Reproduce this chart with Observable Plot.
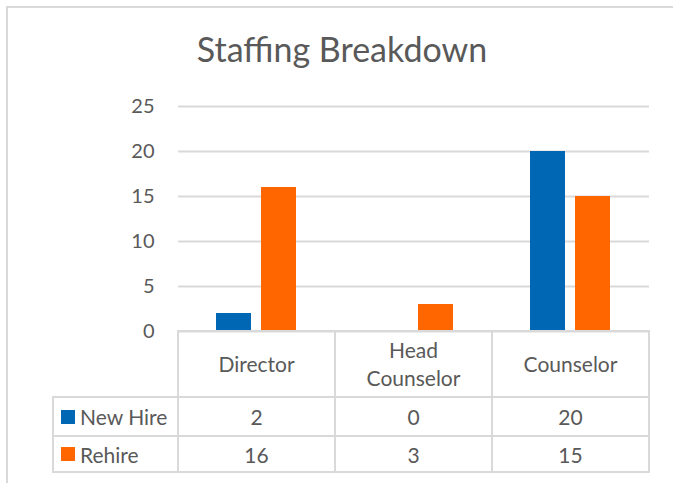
<!DOCTYPE html>
<html>
<head>
<meta charset="utf-8">
<script src="https://cdn.jsdelivr.net/npm/d3@7"></script>
<script src="https://cdn.jsdelivr.net/npm/@observablehq/plot@0.6"></script>
<style>
  html, body { margin: 0; padding: 0; background: #fff; }
  #wrap { position: relative; width: 673px; height: 483px; overflow: hidden; font-family: Lato, "Open Sans", sans-serif; color: #595959; }
  #frame { position: absolute; left: 6px; top: 6px; width: 700px; height: 520px; border-left: 2px solid #d9d9d9; border-top: 2px solid #d9d9d9; box-sizing: border-box; }
  #title { position: absolute; top: 29px; left: 0; width: 684px; text-align: center; font-size: 34px; line-height: 40px; white-space: nowrap; }
  #chart { position: absolute; left: 0; top: 0; }
  .cell { position: absolute; box-sizing: border-box; border: 2px solid #d9d9d9; display: flex; align-items: center; justify-content: center; text-align: center; font-size: 21px; }
  .cell.cat { padding: 0 16px; line-height: 28px; }
  .cell.leg { justify-content: flex-start; padding-left: 7px; }
  .sw { width: 14px; height: 14px; margin-right: 5px; flex: none; }
</style>
</head>
<body>
<div id="wrap">
  <div id="frame"></div>
  <div id="title"></div>
  <div id="chart"></div>
</div>
<script>
const titleText = "Staffing Breakdown";
const categories = ["Director", "Head Counselor", "Counselor"];
const seriesNames = ["New Hire", "Rehire"];
const newHire = [2, 0, 20];
const rehire = [16, 3, 15];
const yTicks = [0, 5, 10, 15, 20, 25];
const seriesColors = ["#0067B4", "#FF6600"];

const seriesValues = [newHire, rehire];
const rows = seriesValues.map((vals, s) => categories.map((c, i) => ({category: c, series: seriesNames[s], value: vals[i]})));

document.getElementById("title").textContent = titleText;

const plot = Plot.plot({
  width: 673,
  height: 483,
  marginLeft: 178,
  marginRight: 24,
  marginTop: 106,
  marginBottom: 152,
  style: {fontFamily: "Lato, 'Open Sans', sans-serif", fontSize: "20px", color: "#595959", background: "transparent"},
  x: {domain: categories, padding: 0, axis: null},
  y: {domain: [0, 25], axis: null},
  marks: [
    Plot.gridY(yTicks, {stroke: "#d9d9d9", strokeOpacity: 1, strokeWidth: 1.8}),
    Plot.axisY(yTicks, {tickSize: 0, tickPadding: 24, label: null, fill: "#595959", fontSize: 20}),
    Plot.barY(rows[0], {x: "category", y: "value", fill: seriesColors[0], insetLeft: 38, insetRight: 84}),
    Plot.barY(rows[1], {x: "category", y: "value", fill: seriesColors[1], insetLeft: 83, insetRight: 39})
  ]
});
document.getElementById("chart").appendChild(plot);

// Data table under the plot, aligned to the plot's own x and y scales
const xs = plot.scale("x");
const ys = plot.scale("y");
const bw = xs.bandwidth;
const top0 = ys.apply(0);
const catRowH = 66;
const rowHs = [39, 36];
const legLeft = 53;
const wrap = document.getElementById("wrap");

function cell(left, top, w, h, cls) {
  const d = document.createElement("div");
  d.className = "cell " + cls;
  d.style.left = (left - 1) + "px";
  d.style.top = (top - 1) + "px";
  d.style.width = (w + 2) + "px";
  d.style.height = (h + 2) + "px";
  wrap.appendChild(d);
  return d;
}

categories.forEach(c => {
  const d = cell(xs.apply(c), top0, bw, catRowH, "cat");
  d.textContent = c;
});
let rowTop = top0 + catRowH;
seriesNames.forEach((s, si) => {
  const h = rowHs[si];
  const firstX = xs.apply(categories[0]);
  const lg = cell(legLeft, rowTop, firstX - legLeft, h, "leg");
  const sw = document.createElement("span");
  sw.className = "sw";
  sw.style.background = seriesColors[si];
  lg.appendChild(sw);
  lg.appendChild(document.createTextNode(s));
  categories.forEach((c, i) => {
    const d = cell(xs.apply(c), rowTop, bw, h, "val");
    d.textContent = String(seriesValues[si][i]);
  });
  rowTop += h;
});
</script>
</body>
</html>
